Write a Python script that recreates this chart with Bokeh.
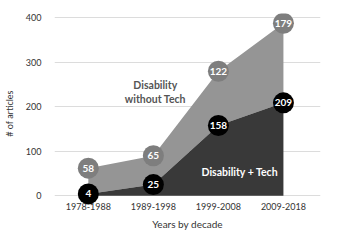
from bokeh.plotting import figure
from bokeh.models import Range1d, FixedTicker, ColumnDataSource
from bokeh.core.properties import value
from bokeh.embed import file_html
from bokeh.resources import INLINE

decades = ["1978-1988", "1989-1998", "1999-2008", "2009-2018"]
with_tech = [4, 25, 158, 209]
without_tech = [58, 65, 122, 179]
y_ticks = [0, 100, 200, 300, 400]

idx = list(range(len(decades)))
stack_top = [a + b for a, b in zip(with_tech, without_tech)]

FONT = "Lato"

p = figure(width=346, height=240, output_backend="svg", toolbar_location=None,
           x_range=Range1d(-0.52, 3.57), y_range=Range1d(-40, 410),
           min_border_left=53, min_border_right=26, min_border_top=13,
           min_border_bottom=27, background_fill_color="white",
           border_fill_color="white")
p.outline_line_color = None

src = ColumnDataSource(dict(x=idx, tech=with_tech, notech=without_tech, top=stack_top,
                            zero=[0] * len(idx), lab=decades,
                            tl=[str(v) for v in with_tech], nl=[str(v) for v in without_tech]))

p.varea(x="x", y1="tech", y2="top", source=src, fill_color="#959595")
p.varea(x="x", y1="zero", y2="tech", source=src, fill_color="#393939")

p.scatter(x="x", y="top", source=src, size=21, fill_color="#7e7e7e", line_color=None)
p.scatter(x="x", y="tech", source=src, size=21, fill_color="#000000", line_color=None)

for ycol, tcol in (("top", "nl"), ("tech", "tl")):
    p.text(x="x", y=ycol, text=tcol, source=src, text_color="white",
           text_font=value(FONT), text_font_style="bold", text_font_size="9.5pt" if False else "10px",
           text_align="center", text_baseline="middle")

# category labels under the zero line
p.text(x="x", y="zero", text="lab", source=src, y_offset=11, text_color="#333333",
       text_font=value(FONT), text_font_size="9px", text_align="center",
       text_baseline="middle")

# series annotations
p.text(x=[1.03], y=[234], text=["Disability\nwithout Tech"], text_color="#555555",
       text_font=value(FONT), text_font_style="bold", text_font_size="10.5px",
       text_align="center", text_baseline="middle", text_line_height=1.15)
p.text(x=[2.33], y=[54], text=["Disability + Tech"], text_color="white",
       text_font=value(FONT), text_font_style="bold", text_font_size="10.5px",
       text_align="center", text_baseline="middle")

# axes
p.yaxis.ticker = FixedTicker(ticks=y_ticks)
p.yaxis.axis_line_color = None
p.yaxis.major_tick_line_color = None
p.yaxis.minor_tick_line_color = None
p.yaxis.major_label_standoff = 7
p.yaxis.major_label_text_font = FONT
p.yaxis.major_label_text_font_size = "9px"
p.yaxis.major_label_text_color = "#333333"
p.yaxis.axis_label = "# of articles"
p.yaxis.axis_label_text_font = FONT
p.yaxis.axis_label_text_font_style = "normal"
p.yaxis.axis_label_text_font_size = "9px"
p.yaxis.axis_label_text_color = "#333333"
p.yaxis.axis_label_standoff = 8

p.xaxis.ticker = FixedTicker(ticks=[])
p.xaxis.axis_line_color = None
p.xaxis.major_tick_line_color = None
p.xaxis.minor_tick_line_color = None
p.xaxis.axis_label = "Years by decade"
p.xaxis.axis_label_text_font = FONT
p.xaxis.axis_label_text_font_style = "normal"
p.xaxis.axis_label_text_font_size = "10px"
p.xaxis.axis_label_text_color = "#333333"
p.xaxis.axis_label_standoff = 4

p.xgrid.grid_line_color = None
p.ygrid.ticker = FixedTicker(ticks=y_ticks)
p.ygrid.grid_line_color = "#dcdcdc"
p.ygrid.grid_line_width = 1

open("out.html", "w").write(file_html(p, INLINE))
